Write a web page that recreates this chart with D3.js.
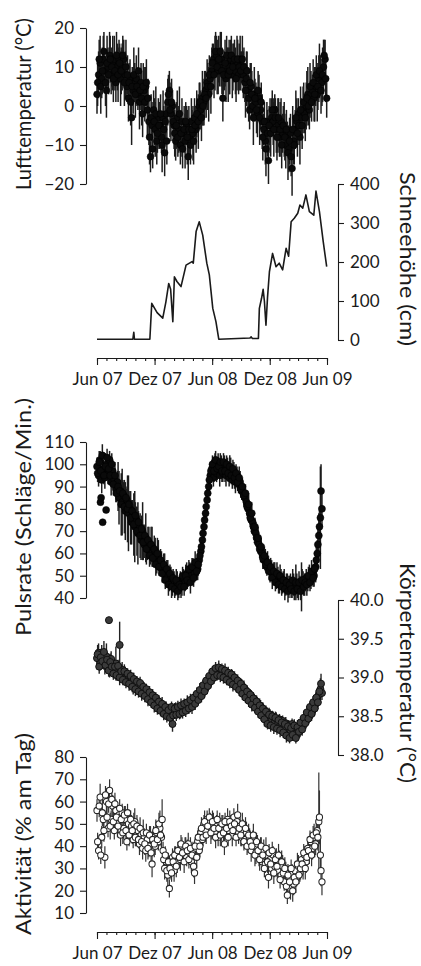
<!DOCTYPE html>
<html><head><meta charset="utf-8">
<script src="https://cdn.jsdelivr.net/npm/d3@7"></script>
<style>
body{margin:0;background:#fff}
svg{display:block}
</style>
</head><body>
<svg id="c" width="421" height="966"></svg>
<script>
// ---------------- DATA ----------------
const xTickLabels = ["Jun 07", "Dez 07", "Jun 08", "Dez 08", "Jun 09"];
const xTickDates = ["2007-06-01", "2007-12-01", "2008-06-01", "2008-12-01", "2009-06-01"];
const sampleStepDays = 5; // set A: days 0, 5, 10, ... ; set B: days 2, 7, 12, ... (from 1 Jun 2007)

const tempTicks = [-20, -10, 0, 10, 20];
const tempValues = [
  3, 8, 11, 7, 12, 9, 4, 10, 13, 8,
  11, 12, 6, 10, 12, 7, 10, 12, 8, 5,
  2, 7, -3, 4, 6, 7, 3, 1, 6, -2,
  4, 5, -1, -4, -13, -5, -1, -6, -9, -3,
  -5, -8, -3, -12, -2, 1, 4, -2, 0, -5,
  -9, -3, -6, -10, -4, -7, -9, -5, -13, -8,
  -4, -7, -3, -6, -2, 0, -1, 2, 1, 4,
  6, 3, 7, 9, 12, 11, 13, 9, 10, 12,
  2, 9, 7, 11, 10, 12, 8, 11, 9, 11,
  8, 12, 10, 8, 6, 7, 4, -1, 5, 0,
  3, 1, -2, 2, -1, -4, -6, -9, -4, -14,
  -5, -3, -4, -1, -6, -5, -8, -4, -7, -6,
  -10, -8, -11, -7, -16, -9, -6, -4, -2, -8,
  -3, -1, -2, 0, 3, -1, 3, 4, 2, 5,
  3, 7, 8, 6, 10, 12, 2
];
const tempSd = [
  5,6,7,5,6,4,7,5,6,5,
  7,6,5,6,5,7,6,5,6,4,
  6,5,7,6,5,6,4,7,5,6,
  6,5,7,6,4,6,5,7,6,5,
  6,4,7,6,5,6,5,7,4,6,
  5,7,6,5,6,4,7,5,6,5,
  6,7,5,6,4,6,5,7,6,5,
  6,7,5,6,4,7,5,6,5,7,
  6,5,6,4,7,5,6,5,6,7,
  5,6,4,6,5,7,6,5,6,4,
  7,5,6,6,5,7,4,6,5,6,
  7,5,6,4,6,7,5,6,5,7,
  6,4,6,5,7,6,5,6,4,7,
  5,6,5,6,7,5,6,4,6,5,
  7,6,5,6,7,5,5
];
const tempValuesB = [
  6, 12, 5, 9, 14, 6, 11, 8, 12, 10,
  7, 9, 13, 8, 11, 9, 13, 6, 10, 8,
  6, 1, 5, 8, 3, 5, 9, 4, 2, 5,
  1, 6, 2, -8, -3, -11, -4, -2, -7, -5,
  -2, -10, -6, -4, -9, 3, -1, 1, -4, -7,
  -5, -8, -2, -7, -11, -6, -4, -8, -6, -10,
  -6, -9, -5, -2, -4, 1, -3, 0, 3, 2,
  5, 8, 5, 11, 8, 14, 10, 12, 14, 9,
  8, 11, 13, 8, 9, 13, 10, 12, 7, 12,
  10, 9, 12, 10, 4, 9, 2, 6, 3, -3,
  2, -1, 4, -3, 1, -8, -4, -11, -7, -5,
  -7, -1, -6, -3, -8, -3, -6, -10, -5, -8,
  -6, -12, -9, -13, -6, -10, -3, -7, -5, -1,
  -5, 1, -3, 2, 0, 5, 1, 6, 3, 8,
  5, 9, 4, 8, 13, 7
];
const tempSdB = [
  6,5,7,6,5,6,7,5,6,5,
  6,5,6,7,5,6,5,6,7,5,
  5,6,5,7,6,5,6,5,7,6,
  5,6,5,7,6,5,6,7,5,6,
  5,7,6,5,6,5,7,6,5,6,
  6,5,7,6,5,6,5,7,6,5,
  5,6,5,6,7,5,6,5,6,5,
  6,5,7,5,6,5,7,6,5,6,
  5,6,5,7,6,5,6,5,6,5,
  6,5,6,5,7,5,6,5,6,7,
  5,6,5,7,5,6,5,7,6,5,
  6,5,7,5,6,5,7,6,5,6,
  5,7,6,5,6,5,7,6,5,6,
  6,5,6,7,5,6,5,6,7,5,
  6,7,6,7,4,6
];

const snowTicks = [0, 100, 200, 300, 400];
const snowDay = [0,114,117,119,168,174,191,209,219,228,234,241,246,254,267,283,302,306,315,325,336,349,357,368,378,387,486,490,494,513,516,523,528,532,537,542,548,558,569,579,590,601,609,617,627,638,645,654,664,675,689,696,707,719,730];
const snowCm  = [2,2,20,2,2,94,70,56,98,145,130,47,162,150,137,192,201,197,278,303,269,197,167,81,47,2,5,8,4,4,81,107,130,100,38,110,175,222,188,197,180,235,215,303,312,325,346,338,372,329,320,382,329,252,188];

const pulseTicks = [40, 50, 60, 70, 80, 90, 100, 110];
const pulseValues = [
  99, 95, 102, 93, 98, 94, 100, 96, 102, 92,
  97, 93, 89, 92, 85, 88, 83, 86, 79, 84,
  78, 80, 74, 77, 72, 75, 69, 72, 66, 70,
  64, 67, 62, 65, 60, 63, 58, 61, 56, 59,
  54, 56, 52, 54, 49, 52, 47, 50, 46, 48,
  45, 47, 44, 48, 46, 49, 47, 51, 49, 52,
  50, 53, 51, 54, 53, 57, 61, 66, 72, 78,
  84, 90, 95, 98, 94, 100, 96, 101, 95, 100,
  96, 100, 95, 99, 94, 98, 93, 97, 92, 95,
  91, 92, 88, 87, 85, 83, 80, 78, 75, 74,
  70, 69, 65, 64, 61, 60, 57, 57, 54, 55,
  52, 53, 50, 51, 48, 50, 47, 49, 46, 48,
  45, 47, 45, 47, 44, 46, 45, 47, 44, 46,
  45, 48, 46, 49, 47, 50, 48, 51, 50, 54,
  60, 68, 76, 80
];
const pulseSd = [
  4,5,4,6,4,5,4,5,4,6,
  5,4,6,5,12,5,15,6,13,5,
  17,6,10,5,16,6,14,5,9,13,
  6,11,5,7,5,9,4,6,5,7,
  4,5,4,6,4,5,4,4,5,4,
  4,5,4,4,5,4,4,5,4,4,
  4,5,4,4,5,4,5,4,5,4,
  5,4,5,4,4,5,4,4,5,4,
  4,4,5,4,4,5,4,4,5,4,
  4,5,4,4,5,4,5,4,4,5,
  4,5,4,4,5,4,4,5,4,4,
  5,4,4,5,4,4,5,4,4,5,
  4,4,5,4,4,5,4,4,5,4,
  11,4,5,4,4,5,4,4,5,7,
  6,10,23,8
];
const pulseValuesB = [
  96, 101, 97, 104, 95, 99, 103, 98, 95, 100,
  91, 95, 87, 90, 88, 82, 87, 81, 85, 80,
  82, 76, 79, 73, 77, 70, 74, 68, 71, 65,
  68, 62, 66, 59, 64, 58, 62, 55, 60, 54,
  57, 51, 55, 48, 53, 46, 51, 45, 49, 44,
  48, 43, 46, 45, 50, 45, 50, 48, 53, 47,
  54, 49, 56, 52, 55, 59, 63, 69, 75, 81,
  87, 93, 97, 100, 97, 102, 98, 99, 101, 97,
  101, 97, 100, 96, 99, 95, 98, 94, 96, 92,
  94, 89, 90, 86, 87, 81, 82, 76, 78, 72,
  72, 67, 67, 62, 63, 58, 59, 55, 56, 52,
  54, 49, 52, 47, 51, 46, 50, 45, 48, 44,
  47, 43, 46, 44, 48, 43, 47, 44, 47, 43,
  48, 45, 47, 46, 50, 47, 52, 49, 53, 57,
  64, 72, 88
];
const pulseSdB = [
  4,5,4,5,4,6,4,5,4,5,
  5,6,4,11,5,14,6,12,5,15,
  6,12,5,14,6,11,5,10,6,8,
  5,7,6,5,8,4,6,5,7,4,
  5,4,5,4,4,5,4,5,4,4,
  5,4,4,5,4,4,5,4,4,5,
  4,4,5,4,5,4,4,5,4,5,
  4,5,4,4,5,4,5,4,4,5,
  4,5,4,4,5,4,4,5,4,4,
  5,4,4,5,4,4,5,4,5,4,
  4,4,5,4,4,5,4,4,5,4,
  4,5,4,4,5,4,5,4,4,5,
  4,5,4,4,5,4,8,4,5,4,
  5,4,4,5,4,4,5,4,5,6,
  7,9,12
];
const pulseOutlierDay = [11, 13, 29, 18];
const pulseOutlierValue = [83, 85, 79.5, 74];

const bodyTicks = [38.0, 38.5, 39.0, 39.5, 40.0];
const bodyValues = [
  39.25, 39.32, 39.18, 39.28, 39.22, 39.15, 39.27, 39.20, 39.12, 39.24,
  39.17, 39.10, 39.18, 39.08, 39.13, 39.05, 39.10, 39.02, 39.06, 38.98,
  39.03, 38.95, 38.99, 38.92, 38.96, 38.88, 38.92, 38.85, 38.89, 38.82,
  38.86, 38.78, 38.82, 38.74, 38.78, 38.70, 38.74, 38.67, 38.71, 38.63,
  38.67, 38.60, 38.64, 38.56, 38.61, 38.53, 38.58, 38.52, 38.40, 38.56,
  38.60, 38.54, 38.59, 38.55, 38.61, 38.58, 38.64, 38.60, 38.66, 38.63,
  38.69, 38.66, 38.72, 38.70, 38.77, 38.75, 38.82, 38.80, 38.87, 38.86,
  38.93, 38.92, 38.99, 38.98, 39.04, 39.02, 39.08, 39.05, 39.10, 39.06,
  39.08, 39.03, 39.07, 39.01, 39.04, 38.99, 39.02, 38.96, 38.98, 38.92,
  38.94, 38.88, 38.90, 38.83, 38.85, 38.78, 38.80, 38.74, 38.76, 38.69,
  38.72, 38.65, 38.67, 38.60, 38.63, 38.56, 38.58, 38.50, 38.55, 38.44,
  38.52, 38.46, 38.49, 38.42, 38.47, 38.40, 38.46, 38.38, 38.44, 38.35,
  38.41, 38.28, 38.38, 38.32, 38.40, 38.30, 38.36, 38.26, 38.34, 38.31,
  38.40, 38.37, 38.46, 38.44, 38.52, 38.50, 38.58, 38.57, 38.63, 38.66,
  38.72, 38.78, 38.85, 38.80
];
const bodySd = [
  0.1,0.12,0.09,0.14,0.1,0.11,0.17,0.09,0.12,0.1,
  0.08,0.11,0.22,0.09,0.07,0.08,0.1,0.07,0.08,0.07,
  0.07,0.08,0.07,0.14,0.07,0.08,0.07,0.07,0.08,0.07,
  0.08,0.07,0.07,0.08,0.07,0.07,0.08,0.07,0.07,0.08,
  0.07,0.08,0.07,0.07,0.08,0.07,0.07,0.08,0.1,0.07,
  0.08,0.07,0.07,0.08,0.07,0.07,0.08,0.07,0.07,0.08,
  0.07,0.07,0.08,0.07,0.07,0.08,0.07,0.07,0.08,0.07,
  0.07,0.08,0.07,0.07,0.08,0.07,0.07,0.08,0.07,0.07,
  0.08,0.07,0.07,0.08,0.07,0.07,0.08,0.07,0.07,0.08,
  0.07,0.07,0.08,0.07,0.07,0.08,0.07,0.07,0.08,0.07,
  0.07,0.08,0.07,0.07,0.08,0.07,0.07,0.08,0.07,0.09,
  0.07,0.08,0.07,0.07,0.08,0.07,0.07,0.08,0.07,0.09,
  0.08,0.09,0.07,0.08,0.07,0.08,0.07,0.09,0.07,0.08,
  0.07,0.08,0.07,0.07,0.08,0.07,0.07,0.08,0.07,0.08,
  0.09,0.1,0.14,0.09
];
const bodyValuesB = [
  39.30, 39.14, 39.26, 39.21, 39.33, 39.16, 39.23, 39.09, 39.20, 39.14,
  39.05, 39.14, 39.03, 39.15, 39.00, 39.08, 38.97, 39.08, 38.94, 39.05,
  38.92, 39.02, 38.88, 38.98, 38.85, 38.95, 38.82, 38.93, 38.79, 38.88,
  38.76, 38.85, 38.72, 38.81, 38.68, 38.77, 38.64, 38.74, 38.60, 38.69,
  38.57, 38.66, 38.53, 38.62, 38.50, 38.58, 38.48, 38.62, 38.51, 38.60,
  38.52, 38.62, 38.53, 38.64, 38.55, 38.66, 38.57, 38.68, 38.60, 38.71,
  38.62, 38.74, 38.66, 38.79, 38.71, 38.84, 38.76, 38.90, 38.82, 38.96,
  38.89, 39.02, 38.95, 39.08, 39.00, 39.12, 39.03, 39.13, 39.02, 39.11,
  39.00, 39.09, 38.97, 39.06, 38.94, 39.04, 38.91, 39.00, 38.88, 38.96,
  38.84, 38.92, 38.79, 38.87, 38.74, 38.82, 38.70, 38.78, 38.65, 38.73,
  38.61, 38.69, 38.56, 38.64, 38.51, 38.60, 38.46, 38.56, 38.40, 38.52,
  38.38, 38.50, 38.36, 38.48, 38.34, 38.45, 38.32, 38.42, 38.29, 38.40,
  38.25, 38.37, 38.22, 38.35, 38.26, 38.38, 38.22, 38.36, 38.30, 38.42,
  38.33, 38.48, 38.41, 38.55, 38.47, 38.62, 38.53, 38.68, 38.60, 38.74,
  38.68, 38.82, 38.92
];
const bodySdB = [
  0.12,0.09,0.11,0.1,0.14,0.09,0.1,0.08,0.11,0.09,
  0.08,0.09,0.07,0.08,0.1,0.08,0.07,0.09,0.08,0.07,
  0.09,0.08,0.07,0.08,0.09,0.07,0.08,0.08,0.09,0.07,
  0.08,0.07,0.09,0.08,0.07,0.08,0.09,0.07,0.08,0.08,
  0.07,0.09,0.08,0.07,0.08,0.08,0.09,0.07,0.08,0.07,
  0.08,0.08,0.07,0.09,0.08,0.07,0.08,0.09,0.07,0.08,
  0.09,0.07,0.08,0.08,0.07,0.09,0.08,0.07,0.08,0.08,
  0.07,0.08,0.09,0.07,0.08,0.08,0.07,0.09,0.08,0.07,
  0.08,0.09,0.07,0.08,0.08,0.07,0.09,0.08,0.07,0.08,
  0.08,0.07,0.08,0.09,0.07,0.08,0.08,0.07,0.09,0.08,
  0.07,0.08,0.08,0.09,0.07,0.08,0.09,0.08,0.07,0.09,
  0.08,0.07,0.09,0.08,0.08,0.07,0.09,0.08,0.07,0.08,
  0.09,0.08,0.07,0.09,0.08,0.08,0.07,0.09,0.08,0.07,
  0.08,0.09,0.07,0.08,0.08,0.07,0.09,0.08,0.09,0.1,
  0.09,0.11,0.13
];
const bodyOutlierDay = [38, 72];
const bodyOutlierValue = [39.74, 39.42];
const bodyOutlierSd = [0.02, 0.3];

const actTicks = [10, 20, 30, 40, 50, 60, 70, 80];
const actValues = [
  56, 38, 62, 44, 52, 35, 60, 48, 65, 52,
  58, 47, 56, 50, 54, 45, 55, 48, 52, 42,
  50, 46, 49, 43, 51, 45, 47, 41, 45, 39,
  44, 38, 43, 40, 45, 32, 44, 40, 46, 42,
  48, 44, 38, 30, 33, 27, 21, 31, 35, 29,
  36, 33, 38, 34, 40, 36, 39, 35, 41, 37,
  33, 38, 28, 39, 42, 38, 46, 43, 50, 47,
  52, 49, 51, 47, 50, 46, 49, 44, 51, 47,
  50, 41, 49, 52, 47, 50, 45, 53, 48, 51,
  46, 49, 44, 47, 43, 46, 41, 44, 38, 43,
  40, 37, 41, 35, 39, 33, 38, 32, 36, 26,
  34, 30, 36, 31, 35, 29, 33, 27, 31, 24,
  28, 18, 26, 21, 28, 23, 29, 26, 31, 28,
  34, 30, 36, 33, 39, 37, 42, 39, 44, 41,
  47, 51, 36, 24
];
const actSd = [
  5,4,6,5,4,5,6,4,5,4,
  5,4,5,6,4,5,4,5,6,4,
  5,4,5,4,6,5,4,5,4,5,
  4,5,4,5,4,6,5,4,5,4,
  8,5,4,5,4,5,4,5,4,5,
  4,5,4,5,4,4,5,4,5,4,
  5,4,5,4,5,4,4,5,4,5,
  4,5,4,4,5,4,5,4,4,5,
  4,5,4,5,4,4,5,4,5,4,
  5,4,4,5,4,5,4,4,5,4,
  4,5,4,4,5,4,5,4,4,5,
  4,5,4,5,4,4,5,4,5,4,
  5,4,4,5,4,5,4,4,5,4,
  4,5,4,5,4,5,4,5,6,5,
  7,22,8,6
];
const actValuesB = [
  42, 58, 36, 55, 47, 63, 53, 59, 49, 61,
  51, 59, 53, 49, 57, 52, 46, 54, 47, 55,
  45, 52, 47, 50, 44, 49, 43, 48, 42, 46,
  41, 46, 39, 45, 37, 43, 41, 47, 43, 50,
  45, 52, 34, 36, 29, 33, 30, 28, 33, 36,
  31, 38, 35, 41, 37, 33, 40, 38, 34, 39,
  36, 31, 40, 35, 44, 40, 48, 44, 51, 45,
  49, 53, 46, 51, 48, 44, 52, 48, 45, 50,
  46, 51, 48, 44, 51, 49, 47, 50, 44, 54,
  48, 45, 50, 42, 48, 40, 45, 42, 40, 45,
  36, 42, 38, 34, 40, 36, 30, 39, 33, 37,
  32, 38, 28, 34, 31, 36, 25, 33, 28, 30,
  22, 27, 24, 30, 20, 26, 24, 32, 27, 30,
  32, 37, 30, 35, 38, 43, 36, 45, 40, 46,
  44, 53, 29
];
const actSdB = [
  4,5,4,6,5,4,5,4,6,5,
  4,5,4,5,4,6,5,4,5,4,
  5,4,6,5,4,5,4,5,4,6,
  5,4,5,4,5,4,6,5,4,5,
  4,9,5,4,5,4,5,4,5,4,
  5,4,5,4,5,5,4,5,4,5,
  4,5,4,5,4,5,5,4,5,4,
  5,4,5,5,4,5,4,5,5,4,
  5,4,5,4,5,5,4,5,4,5,
  4,5,5,4,5,4,5,5,4,5,
  5,4,5,5,4,5,4,5,5,4,
  5,4,5,4,5,5,4,5,4,5,
  4,5,5,4,5,4,5,5,4,5,
  5,4,5,4,5,4,5,4,5,6,
  6,12,7
];

// ---------------- DRAWING ----------------
const FONT = "Lato, 'Open Sans', sans-serif";
const INK = "#1a1a1a";
const svg = d3.select("#c");
const parse = d3.timeParse("%Y-%m-%d");
const start = parse("2007-06-01");
const dayDate = d => d3.timeDay.offset(start, d);
const tickDates = xTickDates.map(parse);

const x = d3.scaleTime().domain([tickDates[0], tickDates[tickDates.length - 1]]).range([97, 327]);

const yTemp = d3.scaleLinear().domain([-20, 20]).range([184, 28]);
const ySnow = d3.scaleLinear().domain([0, 400]).range([340, 184]);
const yPulse = d3.scaleLinear().domain([40, 110]).range([598, 442]);
const yBody = d3.scaleLinear().domain([38, 40]).range([755, 600]);
const yAct = d3.scaleLinear().domain([10, 80]).range([913, 757]);

function styleAxis(g) {
  g.attr("font-family", FONT).attr("font-size", 17);
  g.selectAll("path.domain").attr("stroke", INK).attr("stroke-width", 1.1);
  g.selectAll(".tick line").attr("stroke", INK).attr("stroke-width", 1.1);
  g.selectAll(".tick text").attr("fill", INK);
}

function yAxis(scale, xpos, side, ticks, fmt) {
  const ax = (side === "left" ? d3.axisLeft(scale) : d3.axisRight(scale))
    .tickValues(ticks).tickSize(6).tickSizeOuter(0).tickPadding(6)
    .tickFormat(fmt || d3.format("d"));
  svg.append("g").attr("transform", `translate(${xpos},0)`).call(ax).call(styleAxis);
}

function xAxis(ypos) {
  const minor = d3.timeMonth.range(tickDates[0], d3.timeDay.offset(tickDates[4], 1));
  svg.append("g").attr("transform", `translate(0,${ypos})`)
    .call(d3.axisBottom(x).tickValues(minor).tickSize(3).tickSizeOuter(0).tickFormat(""))
    .call(styleAxis);
  svg.append("g").attr("transform", `translate(0,${ypos})`)
    .call(d3.axisBottom(x).tickValues(tickDates).tickSize(7).tickSizeOuter(0).tickPadding(8)
      .tickFormat((d, i) => xTickLabels[i]))
    .call(styleAxis);
}

function title(text, cx, cy, rot, len) {
  svg.append("text").attr("transform", `translate(${cx},${cy}) rotate(${rot})`)
    .attr("text-anchor", "middle").attr("font-family", FONT).attr("font-size", 21)
    .attr("textLength", len).attr("lengthAdjust", "spacingAndGlyphs")
    .attr("fill", INK).text(text);
}

function points(values, sds, offsetDay) {
  return values.map((v, i) => ({ date: dayDate(offsetDay + i * sampleStepDays), v: v, sd: sds[i] }));
}

function scatter(data, y, opt) {
  const g = svg.append("g");
  g.selectAll("line").data(data).join("line")
    .attr("x1", d => x(d.date)).attr("x2", d => x(d.date))
    .attr("y1", d => y(d.v - d.sd)).attr("y2", d => y(d.v + d.sd))
    .attr("stroke", opt.errColor).attr("stroke-width", opt.errWidth);
  g.selectAll("circle").data(data).join("circle")
    .attr("cx", d => x(d.date)).attr("cy", d => y(d.v)).attr("r", opt.r)
    .attr("fill", opt.fill).attr("stroke", opt.stroke).attr("stroke-width", opt.sw);
}

// Panel 1: air temperature
yAxis(yTemp, 86, "left", tempTicks);
const tempData = points(tempValues, tempSd, 0).concat(points(tempValuesB, tempSdB, 2));
scatter(tempData, yTemp, { errColor: "#1c1c1c", errWidth: 1.5, r: 3.4, fill: "#0a0a0a", stroke: "#000", sw: 0.5 });
title("Lufttemperatur (°C)", 31, 104, -90, 172);

// Panel 2: snow depth
yAxis(ySnow, 338, "right", snowTicks);
svg.append("path")
  .datum(snowDay.map((d, i) => ({ date: dayDate(d), v: snowCm[i] })))
  .attr("d", d3.line().x(d => x(d.date)).y(d => ySnow(d.v)))
  .attr("fill", "none").attr("stroke", INK).attr("stroke-width", 1.6).attr("stroke-linejoin", "round");
title("Schneehöhe (cm)", 400, 259, 90, 174);
xAxis(358);

// Panel 3: pulse
yAxis(yPulse, 86, "left", pulseTicks);
const pulseData = points(pulseValues, pulseSd, 0)
  .concat(points(pulseValuesB, pulseSdB, 2))
  .concat(pulseOutlierDay.map((d, i) => ({ date: dayDate(d), v: pulseOutlierValue[i], sd: 0 })));
scatter(pulseData, yPulse, { errColor: "#1c1c1c", errWidth: 1.5, r: 3.5, fill: "#0a0a0a", stroke: "#000", sw: 0.5 });
title("Pulsrate (Schläge/Min.)", 31, 517, -90, 238);

// Panel 4: body temperature
yAxis(yBody, 338, "right", bodyTicks, d3.format(".1f"));
const bodyData = points(bodyValues, bodySd, 0)
  .concat(points(bodyValuesB, bodySdB, 2))
  .concat(bodyOutlierDay.map((d, i) => ({ date: dayDate(d), v: bodyOutlierValue[i], sd: bodyOutlierSd[i] })));
scatter(bodyData, yBody, { errColor: "#222", errWidth: 1.4, r: 3.5, fill: "#3a3a3a", stroke: "#111", sw: 1 });
title("Körpertemperatur (°C)", 400, 673, 90, 220);

// Panel 5: activity
yAxis(yAct, 86, "left", actTicks);
const actData = points(actValues, actSd, 0).concat(points(actValuesB, actSdB, 2));
scatter(actData, yAct, { errColor: "#333", errWidth: 1.2, r: 3.1, fill: "#fff", stroke: "#262626", sw: 1.05 });
title("Aktivität (% am Tag)", 31, 834, -90, 202);
xAxis(932);
</script>
</body></html>
